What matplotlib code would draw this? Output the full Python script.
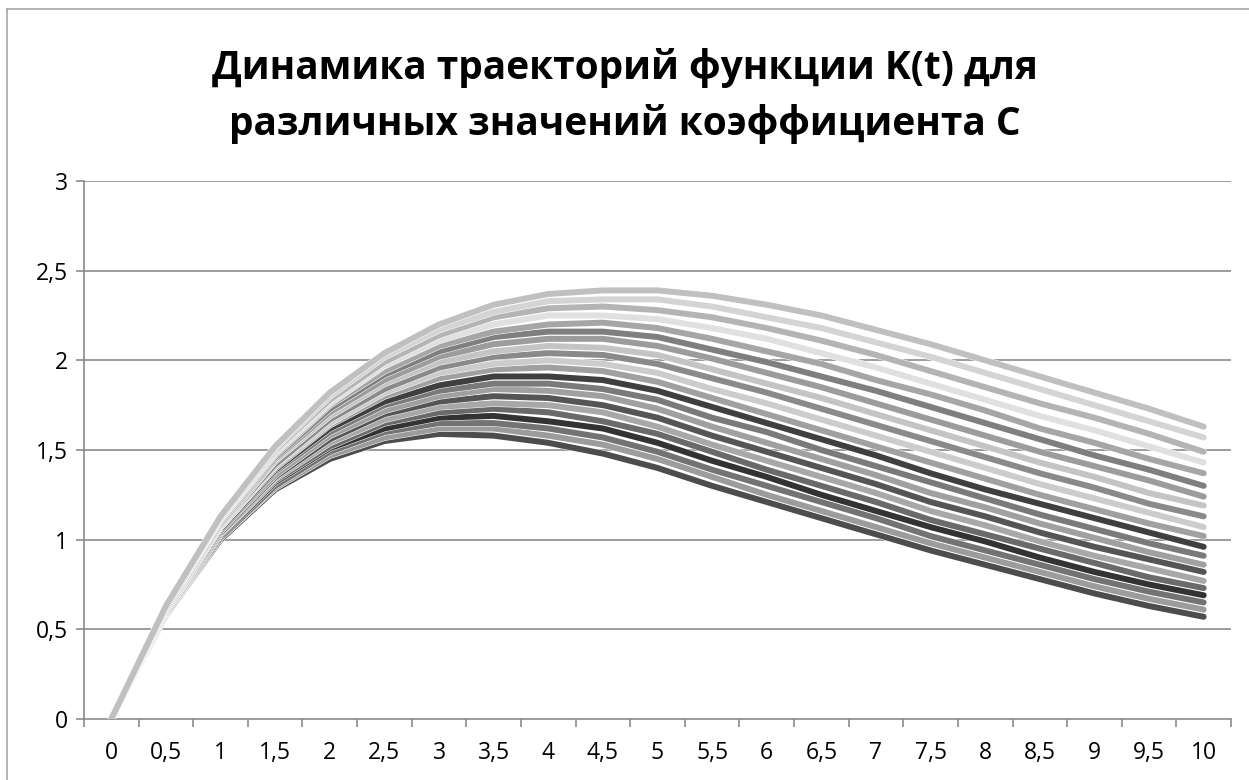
import matplotlib
matplotlib.use("Agg")
import matplotlib.pyplot as plt
import matplotlib.patheffects as pe
from matplotlib.lines import Line2D

# ---- data -------------------------------------------------------------
t_labels = ["0", "0,5", "1", "1,5", "2", "2,5", "3", "3,5", "4", "4,5", "5",
            "5,5", "6", "6,5", "7", "7,5", "8", "8,5", "9", "9,5", "10"]
y_ticks = [0, 0.5, 1, 1.5, 2, 2.5, 3]
y_tick_labels = ["0", "0,5", "1", "1,5", "2", "2,5", "3"]

# trajectories K(t), from the lowest curve to the highest one
k00 = [0, 0.58, 1.00, 1.28, 1.45, 1.55, 1.59, 1.58, 1.54, 1.48, 1.40, 1.30, 1.21, 1.12, 1.03, 0.94, 0.86, 0.78, 0.70, 0.63, 0.57]
k01 = [0, 0.58, 1.01, 1.29, 1.47, 1.57, 1.62, 1.62, 1.58, 1.53, 1.45, 1.35, 1.25, 1.16, 1.07, 0.98, 0.90, 0.82, 0.74, 0.67, 0.61]
k02 = [0, 0.59, 1.01, 1.30, 1.49, 1.60, 1.65, 1.65, 1.62, 1.57, 1.49, 1.39, 1.30, 1.21, 1.12, 1.02, 0.94, 0.86, 0.78, 0.71, 0.65]
k03 = [0, 0.59, 1.02, 1.32, 1.51, 1.62, 1.68, 1.69, 1.66, 1.62, 1.54, 1.44, 1.35, 1.25, 1.16, 1.07, 0.99, 0.90, 0.82, 0.75, 0.69]
k04 = [0, 0.59, 1.03, 1.33, 1.52, 1.65, 1.71, 1.73, 1.71, 1.66, 1.59, 1.49, 1.39, 1.30, 1.21, 1.11, 1.03, 0.95, 0.87, 0.79, 0.73]
k05 = [0, 0.59, 1.03, 1.34, 1.54, 1.67, 1.74, 1.76, 1.75, 1.71, 1.63, 1.53, 1.44, 1.35, 1.26, 1.16, 1.08, 0.99, 0.91, 0.84, 0.77]
k06 = [0, 0.60, 1.04, 1.35, 1.56, 1.70, 1.77, 1.80, 1.79, 1.75, 1.68, 1.58, 1.49, 1.40, 1.31, 1.21, 1.13, 1.04, 0.96, 0.89, 0.82]
k07 = [0, 0.60, 1.05, 1.36, 1.58, 1.72, 1.80, 1.84, 1.83, 1.80, 1.73, 1.63, 1.54, 1.45, 1.36, 1.26, 1.18, 1.09, 1.01, 0.93, 0.86]
k08 = [0, 0.60, 1.05, 1.38, 1.60, 1.75, 1.83, 1.87, 1.87, 1.84, 1.78, 1.68, 1.60, 1.50, 1.41, 1.32, 1.23, 1.14, 1.06, 0.98, 0.91]
k09 = [0, 0.60, 1.06, 1.39, 1.62, 1.77, 1.86, 1.91, 1.91, 1.89, 1.83, 1.74, 1.65, 1.56, 1.47, 1.37, 1.28, 1.20, 1.12, 1.04, 0.96]
k10 = [0, 0.60, 1.07, 1.40, 1.64, 1.80, 1.90, 1.95, 1.96, 1.94, 1.88, 1.79, 1.70, 1.61, 1.52, 1.43, 1.34, 1.25, 1.17, 1.09, 1.02]
k11 = [0, 0.61, 1.07, 1.41, 1.65, 1.82, 1.93, 1.98, 2.00, 1.98, 1.93, 1.84, 1.76, 1.67, 1.58, 1.49, 1.40, 1.31, 1.23, 1.15, 1.07]
k12 = [0, 0.61, 1.08, 1.42, 1.67, 1.84, 1.96, 2.02, 2.04, 2.03, 1.98, 1.90, 1.82, 1.73, 1.64, 1.55, 1.46, 1.37, 1.29, 1.20, 1.13]
k13 = [0, 0.61, 1.08, 1.44, 1.69, 1.87, 1.99, 2.05, 2.08, 2.07, 2.03, 1.95, 1.87, 1.79, 1.70, 1.61, 1.52, 1.43, 1.35, 1.26, 1.19]
k14 = [0, 0.61, 1.09, 1.45, 1.71, 1.89, 2.02, 2.09, 2.12, 2.12, 2.08, 2.01, 1.93, 1.85, 1.76, 1.67, 1.58, 1.49, 1.41, 1.33, 1.24]
k15 = [0, 0.62, 1.10, 1.46, 1.73, 1.92, 2.05, 2.13, 2.16, 2.16, 2.13, 2.06, 1.99, 1.91, 1.83, 1.74, 1.65, 1.56, 1.47, 1.39, 1.30]
k16 = [0, 0.62, 1.10, 1.47, 1.75, 1.94, 2.08, 2.16, 2.20, 2.21, 2.18, 2.12, 2.05, 1.98, 1.89, 1.81, 1.72, 1.62, 1.54, 1.45, 1.37]
k17 = [0, 0.62, 1.11, 1.48, 1.76, 1.97, 2.11, 2.20, 2.25, 2.25, 2.23, 2.18, 2.12, 2.04, 1.96, 1.87, 1.78, 1.69, 1.61, 1.52, 1.43]
k18 = [0, 0.62, 1.12, 1.50, 1.78, 1.99, 2.14, 2.24, 2.29, 2.30, 2.28, 2.24, 2.18, 2.11, 2.03, 1.94, 1.85, 1.76, 1.68, 1.59, 1.49]
k19 = [0, 0.63, 1.12, 1.51, 1.80, 2.02, 2.17, 2.27, 2.33, 2.34, 2.34, 2.30, 2.24, 2.18, 2.10, 2.02, 1.93, 1.84, 1.75, 1.66, 1.57]
k20 = [0, 0.63, 1.13, 1.52, 1.82, 2.04, 2.20, 2.31, 2.37, 2.39, 2.39, 2.36, 2.31, 2.25, 2.17, 2.09, 2.00, 1.91, 1.82, 1.73, 1.63]

series = [k00, k01, k02, k03, k04, k05, k06, k07, k08, k09, k10,
          k11, k12, k13, k14, k15, k16, k17, k18, k19, k20]

# grey shades, lowest curve first
colors = ["#4d4d4d", "#9c9c9c", "#737373", "#333333", "#6a6a6a", "#a8a8a8",
          "#555555", "#a0a0a0", "#7a7a7a", "#3f3f3f", "#a0a0a0", "#cccccc",
          "#8a8a8a", "#c4c4c4", "#9c9c9c", "#7f7f7f", "#a6a6a6", "#e0e0e0",
          "#b4b4b4", "#d4d4d4", "#c0c0c0"]

title_line1 = "Динамика траекторий функции K(t) для"
title_line2 = "различных значений коэффициента С"

# ---- figure -----------------------------------------------------------
plt.rcParams['font.family'] = ['Open Sans', 'DejaVu Sans']
W, H = 1249, 780
fig = plt.figure(figsize=(W / 100, H / 100), dpi=100)
fig.patch.set_facecolor("white")

# outer chart border (left and top edges visible)
border_col = "#a6a6a6"
fig.add_artist(Line2D([7 / W, 7 / W], [0, 1 - 9 / H], transform=fig.transFigure,
                      color=border_col, lw=1.2))
fig.add_artist(Line2D([7 / W, 1], [1 - 9 / H, 1 - 9 / H], transform=fig.transFigure,
                      color=border_col, lw=1.2))

ax = fig.add_axes([84 / W, 1 - 719 / H, (1231 - 84) / W, (719 - 181) / H])

x = list(range(len(t_labels)))
grid_col = "#868686"
for yv in y_ticks[1:]:
    ax.axhline(yv, color=grid_col, lw=1.15, zorder=1)

lw = 4.3
for vals, c in zip(series, colors):
    ax.plot(x, vals, color=c, lw=lw, solid_capstyle='round',
            solid_joinstyle='round', zorder=3,
            path_effects=[pe.Stroke(linewidth=lw + 0.7, foreground='white'),
                          pe.Normal()])

ax.set_xlim(-0.5, len(t_labels) - 0.5)
ax.set_ylim(0, 3)

# category axis: tick marks between categories, labels at centres
ax.set_xticks([i - 0.5 for i in range(len(t_labels) + 1)])
ax.set_xticklabels([])
ax.set_xticks(x, minor=True)
ax.set_xticklabels(t_labels, minor=True, fontsize=16.5)
ax.tick_params(axis='x', which='major', direction='out', length=5.5,
               width=1.15, color=grid_col)
ax.tick_params(axis='x', which='minor', length=0, pad=16)

ax.set_yticks(y_ticks)
ax.set_yticklabels(y_tick_labels, fontsize=16.5)
ax.tick_params(axis='y', direction='out', length=5.5, width=1.15,
               color=grid_col, pad=6)

for s in ['top', 'right']:
    ax.spines[s].set_visible(False)
for s in ['left', 'bottom']:
    ax.spines[s].set_color(grid_col)
    ax.spines[s].set_linewidth(1.15)
ax.set_facecolor("none")

fig.text(0.5, 1 - 68 / H, title_line1, ha='center', va='center',
         fontsize=28, fontweight='bold', color='black')
fig.text(0.5, 1 - 124 / H, title_line2, ha='center', va='center',
         fontsize=28, fontweight='bold', color='black')

fig.savefig("out.png", dpi=100, facecolor="white")
